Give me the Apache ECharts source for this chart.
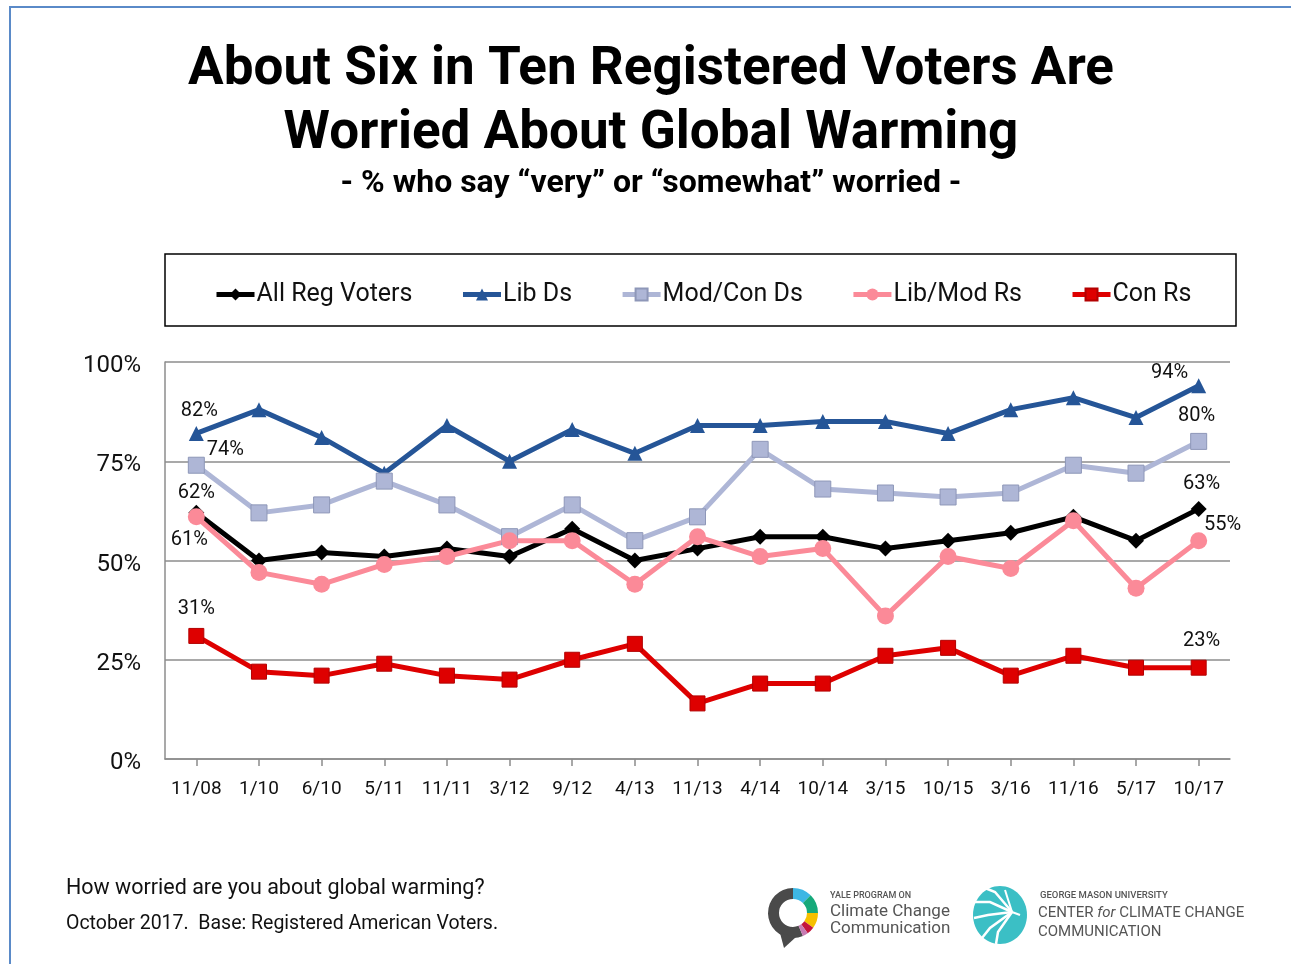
<!DOCTYPE html>
<html>
<head>
<meta charset="utf-8">
<script src="https://cdn.jsdelivr.net/npm/echarts@6/dist/echarts.min.js"></script>
<style>
html,body{margin:0;padding:0;background:#fff;}
#chart{width:1291px;height:964px;}
</style>
</head>
<body>
<div id="chart"></div>
<script>
// ---- data ----
const categories = ['11/08','1/10','6/10','5/11','11/11','3/12','9/12','4/13','11/13','4/14','10/14','3/15','10/15','3/16','11/16','5/17','10/17'];
const allRegVoters = [62,50,52,51,53,51,58,50,53,56,56,53,55,57,61,55,63];
const libDs        = [82,88,81,72,84,75,83,77,84,84,85,85,82,88,91,86,94];
const modConDs     = [74,62,64,70,64,56,64,55,61,78,68,67,66,67,74,72,80];
const libModRs     = [61,47,44,49,51,55,55,44,56,51,53,36,51,48,60,43,55];
const conRs        = [31,22,21,24,21,20,25,29,14,19,19,26,28,21,26,23,23];
const yTicks = [0,25,50,75,100];

const FONT = 'Roboto';
const labelStyle = {show:true, fontFamily:FONT, fontSize:20, color:'#111', formatter: p => p.value + '%'};
// first/last point label placement
function withLabels(values, first, last){
  return values.map((v,i)=>{
    if(i===0) return {value:v, label:Object.assign({}, labelStyle, first)};
    if(i===values.length-1) return {value:v, label:Object.assign({}, labelStyle, last)};
    return v;
  });
}

const chart = echarts.init(document.getElementById('chart'));

function mkSeries(name, values, color, symbol, size, borderColor, first, last){
  return {
    name, type:'line', data: withLabels(values, first, last),
    symbol, symbolSize:size, showAllSymbol:true,
    lineStyle:{color, width:5},
    itemStyle:{color, borderColor: borderColor||color, borderWidth: borderColor?1:0, opacity:1},
    emphasis:{disabled:true},
    animation:false
  };
}

const option = {
  animation:false,
  grid:{left:165, right:61, top:362, bottom:205, containLabel:false},
  legend:{
    left:214, top:282, padding:0, itemGap:48, itemWidth:38, itemHeight:15,
    lineStyle:{width:5},
    textStyle:{fontFamily:FONT, fontSize:25, color:'#111', padding:[0,0,0,-3]},
    data:['All Reg Voters','Lib Ds','Mod/Con Ds','Lib/Mod Rs','Con Rs']
  },
  xAxis:{
    type:'category', data:categories, boundaryGap:true,
    axisLine:{show:true, lineStyle:{color:'#8c8c8c', width:1.5}},
    axisTick:{show:true, alignWithLabel:true, length:7, lineStyle:{color:'#8c8c8c', width:1.5}},
    axisLabel:{fontFamily:FONT, fontSize:19, color:'#111', margin:21, interval:0}
  },
  yAxis:{
    type:'value', min:0, max:100, interval:25,
    axisLine:{show:true, lineStyle:{color:'#8c8c8c', width:1.5}},
    axisTick:{show:false},
    splitLine:{show:true, lineStyle:{color:'#8c8c8c', width:1.5}},
    axisLabel:{margin:24,
      formatter: v => yTicks.includes(v) ? '{a|' + v + '%}' : '',
      rich:{a:{fontFamily:FONT, fontSize:24, color:'#111', padding:[8,0,0,0]}}}
  },
  series:[
    mkSeries('All Reg Voters', allRegVoters, '#000000', 'diamond', 16, null,
      {position:'top', offset:[0,3]}, {position:'top', offset:[3,-2]}),
    mkSeries('Lib Ds', libDs, '#255597', 'triangle', 15, null,
      {position:'top', offset:[3,0]}, {position:'top', offset:[-29,10]}),
    mkSeries('Mod/Con Ds', modConDs, '#aeb6d6', 'rect', 16, '#8e97b8',
      {position:'top', offset:[29,8]}, {position:'top', offset:[-2,-2]}),
    mkSeries('Lib/Mod Rs', libModRs, '#fb8a98', 'circle', 17, null,
      {position:'bottom', offset:[-7,0]}, {position:'top', offset:[24,8]}),
    mkSeries('Con Rs', conRs, '#de0000', 'rect', 15, '#b30000',
      {position:'top', offset:[0,-4]}, {position:'top', offset:[3,-4]})
  ],
  graphic:[
    // outer frame
    {type:'rect', silent:true, z:-1, shape:{x:10, y:7, width:1300, height:1000},
      style:{fill:null, stroke:'#5a8ac8', lineWidth:2}},
    // legend frame
    {type:'rect', silent:true, shape:{x:165, y:254, width:1071, height:72},
      style:{fill:null, stroke:'#000', lineWidth:1.5}},
    // title
    {type:'text', x:651, y:71, style:{text:'About Six in Ten Registered Voters Are', font:'bold 53px Roboto', fill:'#000', textAlign:'center', textVerticalAlign:'middle'}},
    {type:'text', x:651, y:135, style:{text:'Worried About Global Warming', font:'bold 53px Roboto', fill:'#000', textAlign:'center', textVerticalAlign:'middle'}},
    {type:'text', x:651, y:184, style:{text:'- % who say \u201cvery\u201d or \u201csomewhat\u201d worried -', font:'bold 32px Roboto', fill:'#000', textAlign:'center', textVerticalAlign:'middle'}},
    // footnotes
    {type:'text', x:66, y:889, style:{text:'How worried are you about global warming?', font:'21.5px Roboto', fill:'#111', textVerticalAlign:'middle'}},
    {type:'text', x:66, y:924, style:{text:'October 2017.  Base: Registered American Voters.', font:'19.5px Roboto', fill:'#111', textVerticalAlign:'middle'}},
    // Yale logo ring
    {type:'sector', shape:{cx:793, cy:913, r:25, r0:14, startAngle:Math.PI*0.37, endAngle:Math.PI*1.5, clockwise:true}, style:{fill:'#4a4a4a'}},
    {type:'sector', shape:{cx:793, cy:913, r:25, r0:14, startAngle:-Math.PI*0.5, endAngle:-Math.PI*0.25}, style:{fill:'#3db7e4'}},
    {type:'sector', shape:{cx:793, cy:913, r:25, r0:14, startAngle:-Math.PI*0.25, endAngle:0}, style:{fill:'#16a97a'}},
    {type:'sector', shape:{cx:793, cy:913, r:25, r0:14, startAngle:0, endAngle:Math.PI*0.2}, style:{fill:'#f6c000'}},
    {type:'sector', shape:{cx:793, cy:913, r:25, r0:14, startAngle:Math.PI*0.2, endAngle:Math.PI*0.3}, style:{fill:'#c4143c'}},
    {type:'sector', shape:{cx:793, cy:913, r:25, r0:14, startAngle:Math.PI*0.3, endAngle:Math.PI*0.37}, style:{fill:'#c77bb3'}},
    {type:'polygon', shape:{points:[[780,933],[796,937],[784,948]]}, style:{fill:'#4a4a4a'}},
    {type:'text', x:830, y:896, style:{text:'YALE PROGRAM ON', font:'500 9px Roboto', fill:'#555', textVerticalAlign:'middle'}},
    {type:'text', x:830, y:912, style:{text:'Climate Change', font:'17px Roboto', fill:'#555', textVerticalAlign:'middle'}},
    {type:'text', x:830, y:929, style:{text:'Communication', font:'17px Roboto', fill:'#555', textVerticalAlign:'middle'}},
    // GMU logo
    {type:'ellipse', shape:{cx:1000, cy:915, rx:27, ry:29}, style:{fill:'#3bbfc5'}},
    {type:'polyline', shape:{points:[[1012,912],[995,892],[985,888]]}, style:{stroke:'#fff', lineWidth:2.5, fill:null}},
    {type:'polyline', shape:{points:[[1012,912],[990,902],[975,902]]}, style:{stroke:'#fff', lineWidth:2.5, fill:null}},
    {type:'polyline', shape:{points:[[1012,912],[988,915],[974,918]]}, style:{stroke:'#fff', lineWidth:2.5, fill:null}},
    {type:'polyline', shape:{points:[[1012,912],[990,928],[982,938]]}, style:{stroke:'#fff', lineWidth:2.5, fill:null}},
    {type:'polyline', shape:{points:[[1012,912],[998,932],[996,944]]}, style:{stroke:'#fff', lineWidth:2.5, fill:null}},
    {type:'polyline', shape:{points:[[1012,912],[1005,890]]}, style:{stroke:'#fff', lineWidth:2, fill:null}},
    {type:'polyline', shape:{points:[[1012,912],[1020,915]]}, style:{stroke:'#fff', lineWidth:2, fill:null}},
    {type:'text', x:1040, y:896, style:{text:'GEORGE MASON UNIVERSITY', font:'500 9.5px Roboto', fill:'#555', textVerticalAlign:'middle'}},
    {type:'text', x:1038, y:913, style:{text:'{a|CENTER }{i|for}{a| CLIMATE CHANGE}', fill:'#555', textVerticalAlign:'middle',
      rich:{a:{fontFamily:FONT, fontSize:15, fill:'#555'}, i:{fontFamily:FONT, fontSize:15, fontStyle:'italic', fill:'#555'}}}},
    {type:'text', x:1038, y:932, style:{text:'COMMUNICATION', font:'15px Roboto', fill:'#555', textVerticalAlign:'middle'}}
  ]
};
chart.setOption(option);
</script>
</body>
</html>
